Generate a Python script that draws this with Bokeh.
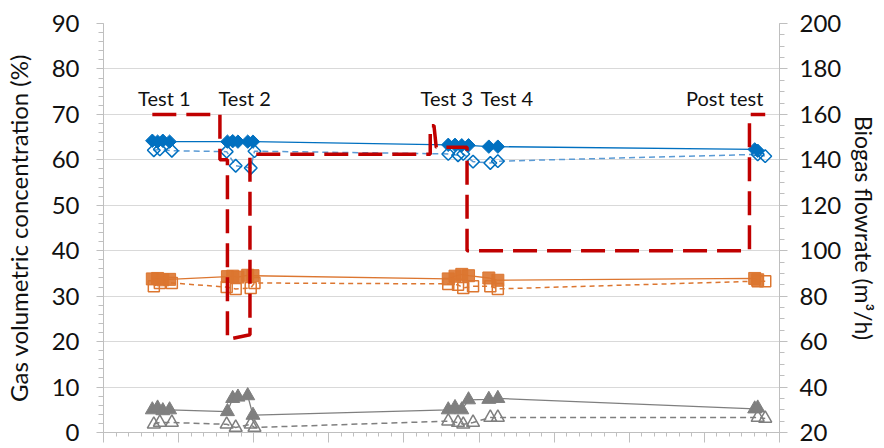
import numpy as np
from bokeh.plotting import figure
from bokeh.models import Range1d, LinearAxis, FixedTicker, CustomLabelingPolicy
from bokeh.core.properties import value
from bokeh.embed import file_html
from bokeh.resources import INLINE

# ---------------- data ----------------
# sampling times, days (filled markers)
t_filled = [0.65, 0.72, 0.79, 0.88, 1.65, 1.72, 1.79, 1.92, 1.99,
            4.59, 4.68, 4.77, 4.86, 5.13, 5.25, 8.67, 8.71]
ch4_filled = [64.2, 64.0, 64.2, 64.0, 64.0, 64.1, 64.0, 64.0, 64.0,
              63.3, 63.3, 63.2, 63.2, 62.9, 62.9, 62.3, 62.0]
co2_filled = [33.8, 33.9, 33.6, 33.7, 34.3, 34.4, 34.2, 34.6, 34.5,
              33.8, 34.4, 34.8, 34.5, 34.0, 33.5, 33.9, 33.6]
oth_filled = [5.0, 5.4, 4.8, 5.0, 4.6, 7.5, 7.8, 8.1, 3.8,
              5.0, 5.5, 5.0, 7.2, 7.3, 7.5, 5.2, 5.4]

# sampling times, days (open markers)
t_open = [0.67, 0.75, 0.91, 1.64, 1.76, 1.96, 2.01,
          4.59, 4.72, 4.79, 4.92, 5.15, 5.25, 8.71, 8.81]
ch4_open = [62.1, 62.3, 62.0, 61.8, 58.7, 58.2, 61.9,
            61.3, 61.0, 61.3, 59.6, 59.3, 59.7, 61.2, 60.8]
co2_open = [32.2, 32.9, 32.9, 32.0, 31.6, 31.8, 32.9,
            32.7, 32.5, 31.8, 32.2, 32.2, 31.6, 33.3, 33.3]
oth_open = [1.8, 2.2, 2.2, 1.8, 1.1, 1.8, 1.1,
            2.5, 2.2, 1.8, 2.2, 3.3, 3.3, 3.3, 3.1]

# biogas flowrate (m3/h), right axis
t_flow = [0.65, 1.55, 1.55, 1.65, 1.65, 1.95, 1.95, 4.35, 4.35, 4.40,
          4.43, 4.84, 4.84, 8.60, 8.60, 8.81]
flow = [160, 160, 140, 140, 61, 63, 142.5, 142.5, 155, 155,
        145.5, 145.5, 100, 100, 160, 160]

test_labels = ["Test 1", "Test 2", "Test 3", "Test 4", "Post test"]
test_label_x = [0.81, 1.88, 4.57, 5.37, 8.27]
test_label_y = [73.5, 73.5, 73.5, 73.5, 73.5]

left_ticks = list(range(0, 91, 10))
right_ticks = list(range(20, 201, 20))
x_ticks = list(range(0, 10))

# ---------------- styles ----------------
BLUE = "#0070C0"
LBLUE = "#5B9BD5"
ORANGE = "#DC7630"
GREY = "#7F7F7F"
RED = "#C00000"
AXC = "#BFBFBF"
FONT = "Lato"

p = figure(width=882, height=446, output_backend="svg", toolbar_location=None,
           x_range=Range1d(0, 9), y_range=Range1d(0, 90),
           min_border_left=103, min_border_right=103, min_border_top=23,
           min_border_bottom=12)
p.outline_line_color = None
p.background_fill_color = "white"
p.border_fill_color = "white"
p.xgrid.grid_line_color = None
p.ygrid.grid_line_color = "#D9D9D9"
p.ygrid.grid_line_width = 1
p.extra_y_ranges = {"flow": Range1d(20, 200)}

# x axis (its labels lie outside the picture)
xa = p.xaxis[0]
xa.ticker = FixedTicker(ticks=x_ticks,
                        minor_ticks=[i / 6 for i in range(0, 55)])
xa.major_label_policy = CustomLabelingPolicy(
    code="for (const i of indices) indices.unset(i); return indices")
xa.major_label_text_font_size = "1px"
xa.major_label_standoff = 0
xa.axis_line_color = AXC
xa.major_tick_line_color = AXC
xa.minor_tick_line_color = AXC
xa.major_tick_in = 0
xa.major_tick_out = 10
xa.minor_tick_in = 0
xa.minor_tick_out = 4

# left axis
ya = p.yaxis[0]
ya.ticker = FixedTicker(ticks=left_ticks, minor_ticks=list(range(0, 91, 2)))
ya.axis_label = "Gas volumetric concentration (%)"

ra = LinearAxis(y_range_name="flow", axis_label="Biogas flowrate (m³/h)")
ra.ticker = FixedTicker(ticks=right_ticks, minor_ticks=list(range(20, 201, 5)))
p.add_layout(ra, "right")

for ax in [ya, ra]:
    ax.axis_line_color = AXC
    ax.major_tick_line_color = AXC
    ax.minor_tick_line_color = AXC
    ax.major_tick_in = 0
    ax.minor_tick_in = 0
    ax.minor_tick_out = 5
    ax.major_label_text_font = FONT
    ax.major_label_text_font_size = "24px"
    ax.major_label_text_color = "#111111"
    ax.axis_label_text_font = FONT
    ax.axis_label_text_font_size = "24px"
    ax.axis_label_text_font_style = "normal"
    ax.axis_label_text_color = "#111111"
ya.major_tick_out = 7
ra.major_tick_out = 8
ya.major_label_standoff = 17
ya.axis_label_standoff = 16
ra.major_label_standoff = 12
ra.axis_label_standoff = 6
ra.axis_label_text_font_size = "23px"

# ---------------- series ----------------
p.line(t_filled, ch4_filled, line_color=BLUE, line_width=1.3)
p.scatter(t_filled, ch4_filled, marker="square", angle=np.pi / 4, size=9.5,
          fill_color=BLUE, line_color=BLUE)
p.line(t_open, ch4_open, line_color=LBLUE, line_width=1.5, line_dash="6 4")
p.scatter(t_open, ch4_open, marker="square", angle=np.pi / 4, size=9,
          fill_color="white", fill_alpha=0, line_color=BLUE, line_width=1.5)

p.line(t_filled, co2_filled, line_color=ORANGE, line_width=1.3)
p.scatter(t_filled, co2_filled, marker="square", size=12,
          fill_color=ORANGE, fill_alpha=0.9, line_color=ORANGE)
p.line(t_open, co2_open, line_color=ORANGE, line_width=1.5, line_dash="5 4")
p.scatter(t_open, co2_open, marker="square", size=11,
          fill_alpha=0, line_color=ORANGE, line_width=1.5)

p.line(t_filled, oth_filled, line_color=GREY, line_width=1.3)
p.scatter(t_filled, oth_filled, marker="triangle", size=14,
          fill_color=GREY, line_color=GREY)
p.line(t_open, oth_open, line_color=GREY, line_width=1.5, line_dash="6 4")
p.scatter(t_open, oth_open, marker="triangle", size=13,
          fill_alpha=0, line_color=GREY, line_width=1.5)

p.line(t_flow, flow, y_range_name="flow", line_color=RED, line_width=3.5,
       line_dash="24 10")

p.text(test_label_x, test_label_y, text=test_labels, text_align="center",
       text_baseline="alphabetic", text_font=value(FONT),
       text_font_size="20px", text_color="#111111")

open("out.html", "w").write(file_html(p, INLINE))
